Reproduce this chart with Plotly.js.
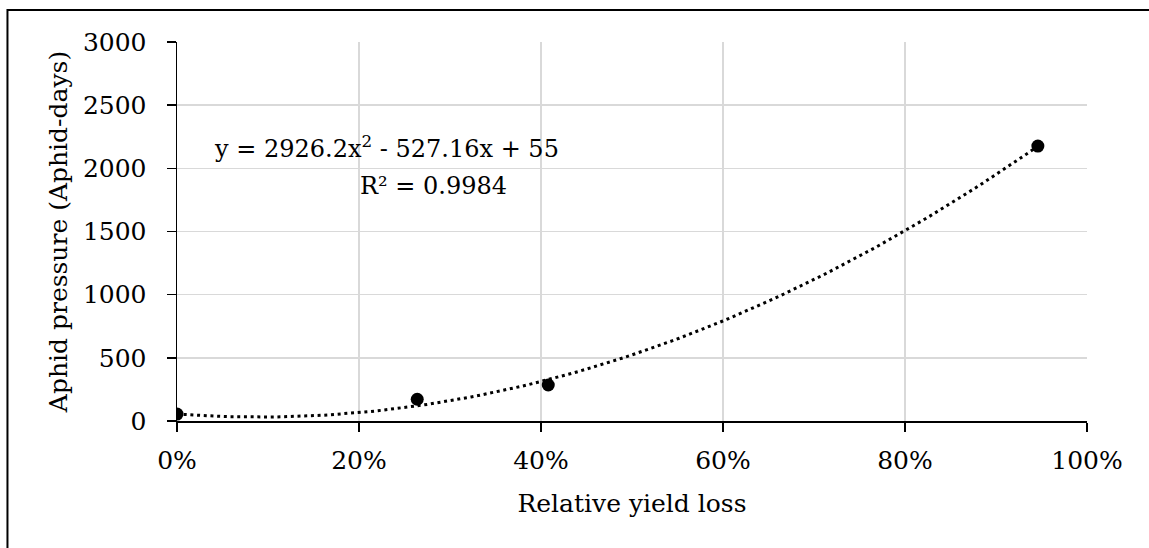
<!DOCTYPE html>
<html>
<head>
<meta charset="utf-8">
<script src="https://cdn.plot.ly/plotly-3.0.1.min.js"></script>
<style>html,body{margin:0;padding:0;background:#fff;}#chart{width:1149px;height:548px;}</style>
</head>
<body>
<div id="chart"></div>
<script>
// Data
const yieldLoss = [0, 0.264, 0.408, 0.946];          // relative yield loss (fraction)
const aphidPressure = [55, 172, 285, 2176];          // aphid-days
const trendCoef = [2926.2, -527.16, 55];             // quadratic trendline coefficients (a, b, c) as printed
const xTickVals = [0, 0.2, 0.4, 0.6, 0.8, 1.0];
const xTickText = ['0%', '20%', '40%', '60%', '80%', '100%'];
const yTickVals = [0, 500, 1000, 1500, 2000, 2500, 3000];
const eqText = 'y = 2926.2x<sup>2</sup> - 527.16x + 55';
const r2Text = 'R² = 0.9984';

// Trendline drawn across the data range from the printed equation
const xMin = Math.min(...yieldLoss), xMax = Math.max(...yieldLoss);
const trendX = [], trendY = [];
const nSteps = 120;
for (let i = 0; i <= nSteps; i++) {
  const x = xMin + (xMax - xMin) * i / nSteps;
  trendX.push(x);
  trendY.push(trendCoef[0] * x * x + trendCoef[1] * x + trendCoef[2]);
}

const FONT = 'DejaVu Serif';
const tf = {family: FONT, size: 25, color: '#000'};
const af = {family: FONT, size: 24, color: '#000'};

const traces = [
  {x: trendX, y: trendY, type: 'scatter', mode: 'lines',
   line: {color: '#000', width: 3, dash: '3px,3.7px'}, hoverinfo: 'skip', showlegend: false},
  {x: yieldLoss, y: aphidPressure, type: 'scatter', mode: 'markers',
   marker: {color: '#000', size: 13}, showlegend: false}
];

const layout = {
  width: 1149, height: 548,
  margin: {l: 177, r: 62, t: 42, b: 127, pad: 0},
  paper_bgcolor: '#fff', plot_bgcolor: '#fff',
  font: tf,
  showlegend: false,
  xaxis: {
    range: [0, 1], tickvals: xTickVals, ticktext: xTickText,
    showgrid: true, gridcolor: '#d9d9d9', gridwidth: 1.5,
    zeroline: false, showline: true, linecolor: '#000', linewidth: 1.5,
    ticks: 'outside', ticklen: 9, tickwidth: 1.5, tickcolor: '#000',
    ticklabelstandoff: 7,
    tickfont: tf,
    title: {text: 'Relative yield loss', font: tf, standoff: 21},
    automargin: false, fixedrange: true
  },
  yaxis: {
    range: [0, 3000], tickvals: yTickVals,
    showgrid: true, gridcolor: '#d9d9d9', gridwidth: 1.5,
    zeroline: false, showline: true, linecolor: '#000', linewidth: 1.5,
    ticks: 'outside', ticklen: 9, tickwidth: 1.5, tickcolor: '#000',
    ticklabelstandoff: 15,
    tickfont: tf,
    title: {text: 'Aphid pressure (Aphid-days)', font: tf, standoff: 8},
    automargin: false, fixedrange: true
  },
  annotations: [
    {xref: 'x', yref: 'y', x: 0.2302, y: 2165, xanchor: 'center', yanchor: 'middle',
     text: eqText, showarrow: false, font: af},
    {xref: 'x', yref: 'y', x: 0.2819, y: 1860, xanchor: 'center', yanchor: 'middle',
     text: r2Text, showarrow: false, font: af}
  ],
  shapes: [
    {type: 'rect', xref: 'paper', yref: 'paper', x0: -0.1863, x1: 1.2, y0: -0.5, y1: 1.0844,
     line: {color: '#000', width: 2}, fillcolor: 'rgba(0,0,0,0)', layer: 'below'}
  ]
};

Plotly.newPlot('chart', traces, layout, {displayModeBar: false, staticPlot: true});
</script>
</body>
</html>
